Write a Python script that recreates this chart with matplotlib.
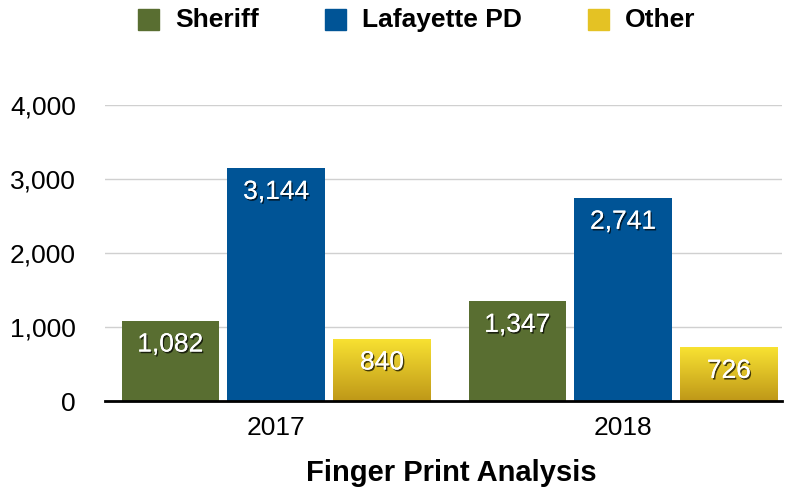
import matplotlib
matplotlib.use("Agg")
import matplotlib.pyplot as plt
import matplotlib.patheffects as pe
from matplotlib.patches import Rectangle
from matplotlib.colors import LinearSegmentedColormap
import numpy as np

years = ["2017", "2018"]
series = ["Sheriff", "Lafayette PD", "Other"]
sheriff = [1082, 1347]
lafayette = [3144, 2741]
other = [840, 726]
colors = ["#596e31", "#005496", "#e4c224"]
yticks = [0, 1000, 2000, 3000, 4000]

plt.rcParams['font.family'] = ['Liberation Sans', 'DejaVu Sans']

fig = plt.figure(figsize=(7.91, 4.90), dpi=100)
ax = fig.add_axes([105/791, 1-401/490, (782-105)/791, (401-105)/490])

x = np.arange(len(years))
w = 0.28
off = 0.305
vals = [sheriff, lafayette, other]
grad = LinearSegmentedColormap.from_list("g", ["#bf9818", "#f8e232"])
shadow = [pe.withSimplePatchShadow(offset=(1, -1.2), shadow_rgbFace='black', alpha=0.7), pe.Normal()]
for i, v in enumerate(vals):
    bars = ax.bar(x + (i-1)*off, v, width=w, color=colors[i], zorder=3)
    if i == 2:
        for b in bars:
            bx, by = b.get_x(), b.get_y()
            bw, bh = b.get_width(), b.get_height()
            img = ax.imshow(np.linspace(0, 1, 100).reshape(-1, 1), cmap=grad, aspect='auto',
                            extent=[bx, bx+bw, by, by+bh], origin='lower', zorder=3.5)
            img.set_clip_path(b)
    for b, val in zip(bars, v):
        ax.annotate(f"{val:,}", (b.get_x()+b.get_width()/2, val), xytext=(0, -17),
                    textcoords='offset points', ha='center', va='center',
                    fontsize=19, color='white', zorder=5, path_effects=shadow)

ax.set_xlim(-0.493, 1.458)
ax.set_ylim(0, 4000)
ax.set_yticks(yticks)
ax.set_yticklabels([f"{t:,}" for t in yticks], fontsize=19)
ax.set_xticks(x)
ax.set_xticklabels(years, fontsize=19)
ax.tick_params(axis='both', length=0)
ax.tick_params(axis='y', pad=21)
ax.tick_params(axis='x', pad=11)
ax.grid(axis='y', color='#d0d0d0', linewidth=1, zorder=0)
for s in ['left', 'right', 'top']:
    ax.spines[s].set_visible(False)
ax.spines['bottom'].set_linewidth(2)
ax.spines['bottom'].set_zorder(4)
fig.text(451/791, 1-473/490, "Finger Print Analysis", fontsize=21, fontweight='bold',
         ha='center', va='center')

# legend
sq = 21
positions = [(138, 175), (325, 362), (588, 625)]
for (sx, tx), name, c in zip(positions, series, colors):
    fig.patches.append(Rectangle((sx/791, 1-(20+sq/2)/490), sq/791, sq/490,
                                 transform=fig.transFigure, color=c))
    fig.text(tx/791, 1-20/490, name, fontsize=19, fontweight='bold', va='center', ha='left')

fig.savefig("out.png", dpi=100)
